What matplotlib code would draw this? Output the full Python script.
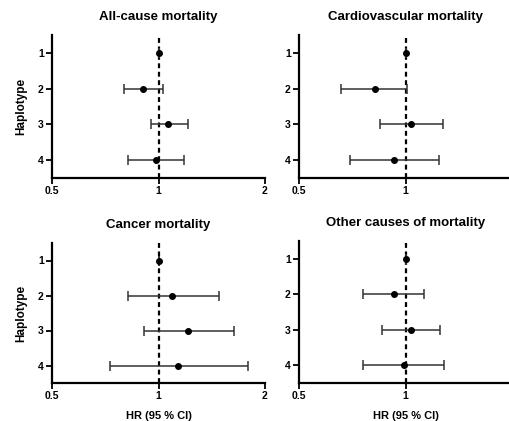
import numpy as np
import matplotlib
matplotlib.use("Agg")
import matplotlib.pyplot as plt

plt.rcParams['font.family'] = ['Liberation Sans', 'DejaVu Sans']
plt.rcParams['font.weight'] = 'bold'

haplotypes = [1, 2, 3, 4]
titles = ["All-cause mortality", "Cardiovascular mortality",
          "Cancer mortality", "Other causes of mortality"]

# hazard ratios and 95% CI per panel (haplotype 1 = reference)
hr_all = [1.0, 0.906, 1.067, 0.985]
lo_all = [1.0, 0.797, 0.953, 0.818]
hi_all = [1.0, 1.029, 1.214, 1.180]

hr_cvd = [1.0, 0.818, 1.037, 0.925]
lo_cvd = [1.0, 0.657, 0.849, 0.698]
hi_cvd = [1.0, 1.009, 1.280, 1.242]

hr_can = [1.0, 1.091, 1.215, 1.135]
lo_can = [1.0, 0.819, 0.909, 0.727]
hi_can = [1.0, 1.484, 1.636, 1.786]

hr_oth = [1.0, 0.925, 1.035, 0.989]
lo_oth = [1.0, 0.760, 0.860, 0.760]
hi_oth = [1.0, 1.131, 1.251, 1.284]

xticks = [0.5, 1, 2]
xticklabels = ["0.5", "1", "2"]

panels = [(hr_all, lo_all, hi_all), (hr_cvd, lo_cvd, hi_cvd),
          (hr_can, lo_can, hi_can), (hr_oth, lo_oth, hi_oth)]

W, H = 510, 421
fig = plt.figure(figsize=(W / 100, H / 100), dpi=100)

# pixel boxes: left, top, right, bottom
boxes = [(52, 35, 265, 178), (299, 35, 512, 178),
         (52, 243, 265, 383), (299, 241, 512, 383)]

for i, (hr, lo, hi) in enumerate(panels):
    l, t, r, b = boxes[i]
    ax = fig.add_axes([l / W, 1 - b / H, (r - l) / W, (b - t) / H])
    hr = np.array(hr)
    err = [hr - np.array(lo), np.array(hi) - hr]
    ax.axvline(1, color='black', lw=1.6, ls=(0, (2.2, 1.6)), zorder=1)
    ax.errorbar(hr, haplotypes, xerr=err, fmt='o', color='black', ecolor='#333333',
                elinewidth=1.1, capsize=3.5, capthick=1.1, markersize=4, zorder=3)
    ax.set_xscale('log')
    ax.set_xlim(0.5, 2)
    ax.set_ylim(4.5, 0.5)
    # the right-hand panels run off the edge of the figure, so their "2" is not shown
    n = 3 if i % 2 == 0 else 2
    ax.set_xticks(xticks[:n])
    ax.set_xticklabels(xticklabels[:n])
    ax.minorticks_off()
    ax.set_yticks(haplotypes)
    ax.spines['top'].set_visible(False)
    ax.spines['right'].set_visible(False)
    ax.spines['left'].set_linewidth(1.6)
    ax.spines['bottom'].set_linewidth(1.6)
    ax.tick_params(width=1.3, length=4, labelsize=7.5, pad=2)
    ax.set_title(titles[i], fontsize=9.5, fontweight='bold', pad=11)
    if i % 2 == 0:
        ax.set_ylabel("Haplotype", fontsize=8.5, fontweight='bold', labelpad=8)
    if i >= 2:
        ax.set_xlabel("HR (95 % CI)", fontsize=8, fontweight='bold', labelpad=7)

fig.savefig("out.png", dpi=100)
